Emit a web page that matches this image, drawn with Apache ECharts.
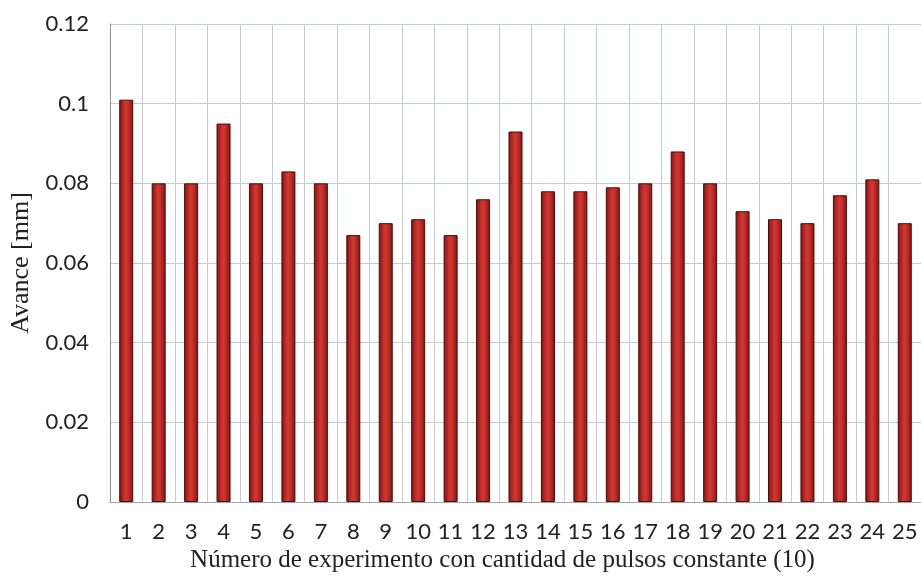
<!DOCTYPE html>
<html>
<head>
<meta charset="utf-8">
<script src="https://cdn.jsdelivr.net/npm/echarts@6/dist/echarts.min.js"></script>
<style>html,body{margin:0;padding:0;background:#fff}#c{width:921px;height:584px}</style>
</head>
<body>
<div id="c"></div>
<script>
const categories = ['1','2','3','4','5','6','7','8','9','10','11','12','13','14','15','16','17','18','19','20','21','22','23','24','25'];
const avance = [0.101,0.080,0.080,0.095,0.080,0.083,0.080,0.067,0.070,0.071,0.067,0.076,0.093,0.078,0.078,0.079,0.080,0.088,0.080,0.073,0.071,0.070,0.077,0.081,0.070];
const yTicks = ['0','0.02','0.04','0.06','0.08','0.1','0.12'];

const chart = echarts.init(document.getElementById('c'));
chart.setOption({
  animation: false,
  backgroundColor: '#fff',
  grid: {left: 110, right: 0, top: 24, bottom: 82},
  xAxis: {
    type: 'category',
    data: categories,
    name: 'Número de experimento con cantidad de pulsos constante (10)',
    nameLocation: 'middle',
    nameGap: 43,
    nameTextStyle: {fontFamily: 'Liberation Serif', fontSize: 25, color: '#222', padding: [0, 26, 0, 0]},
    axisLine: {lineStyle: {color: '#a0a8b0', width: 1}},
    axisTick: {show: false},
    axisLabel: {interval: 0, hideOverlap: false, fontFamily: 'Lato', fontSize: 22, color: '#222', margin: 19},
    splitLine: {show: true, interval: 0, lineStyle: {color: '#c3ccd6', width: 1}}
  },
  yAxis: {
    type: 'value',
    min: 0, max: 0.12, interval: 0.02,
    name: 'Avance [mm]',
    nameLocation: 'middle',
    nameGap: 70,
    nameTextStyle: {fontFamily: 'Liberation Serif', fontSize: 26, color: '#222'},
    axisLine: {show: true, lineStyle: {color: '#8a9098', width: 1}},
    axisTick: {show: false},
    axisLabel: {fontFamily: 'Lato', fontSize: 22, color: '#222', margin: 21,
      formatter: v => yTicks[Math.round(v / 0.02)]},
    splitLine: {show: true, lineStyle: {color: '#c3ccd6', width: 1}}
  },
  series: [{
    type: 'bar',
    data: avance,
    barWidth: 14,
    itemStyle: {
      color: new echarts.graphic.LinearGradient(0, 0, 1, 0, [
        {offset: 0, color: '#7e1515'},
        {offset: 0.45, color: '#d5362f'},
        {offset: 0.6, color: '#cc312b'},
        {offset: 1, color: '#7e1515'}
      ]),
      borderColor: '#4a0c0c',
      borderWidth: 1
    }
  }]
});
</script>
</body>
</html>
